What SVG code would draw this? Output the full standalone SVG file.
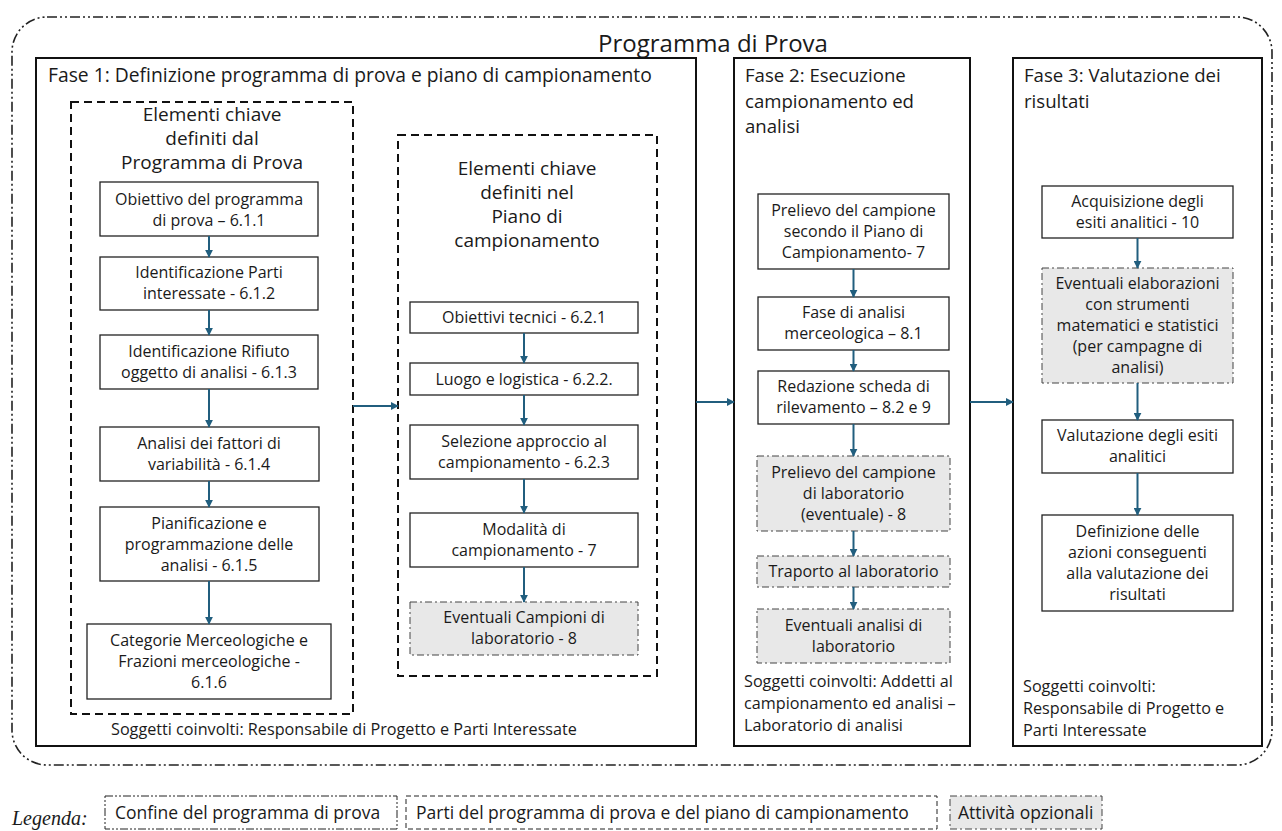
<svg xmlns="http://www.w3.org/2000/svg" width="1282" height="831" viewBox="0 0 1282 831">
<defs>
<marker id="ah" viewBox="0 0 10 10" refX="9" refY="5" markerWidth="8" markerHeight="8" markerUnits="userSpaceOnUse" orient="auto">
<path d="M0,0 L10,5 L0,10 z" fill="#215E7E"/>
</marker>
<style>
text{font-family:"Open Sans","Liberation Sans",sans-serif;fill:#1a1a1a}
.t{font-size:16px;text-anchor:middle}
.h{font-size:19px;text-anchor:middle}
.ph{font-size:18.6px}
.s{font-size:16.2px}
.box{fill:#fff;stroke:#222;stroke-width:1.3}
.opt{fill:#e8e8e8;stroke:#444;stroke-width:1;stroke-dasharray:7 3 2 3}
.phase{fill:#fff;stroke:#111;stroke-width:2}
.dash{fill:none;stroke:#111;stroke-width:2;stroke-dasharray:8 5}
.outer{fill:none;stroke:#222;stroke-width:1.6;stroke-dasharray:10 3 2 3 2 3}
.c{fill:none;stroke:#215E7E;stroke-width:2;marker-end:url(#ah)}
.lg{font-size:17.5px}
</style>
</defs>
<rect width="1282" height="831" fill="#fff"/>
<g id="boundary">
<rect class="outer" x="12" y="17" width="1260" height="748" rx="35" ry="35"/>
<text x="713" y="52" style="font-size:24px;text-anchor:middle">Programma di Prova</text>
</g>
<g id="fase1">
<rect class="phase" x="36" y="58" width="660" height="688"/>
<text class="ph" x="48" y="82" style="font-size:19.3px">Fase 1: Definizione programma di prova e piano di campionamento</text>
<text class="s" x="111" y="735">Soggetti coinvolti: Responsabile di Progetto e Parti Interessate</text>
</g>
<g id="fase2">
<rect class="phase" x="734" y="58" width="236" height="688"/>
<text class="ph" x="745" y="82">Fase 2: Esecuzione</text>
<text class="ph" x="745" y="107.5">campionamento ed</text>
<text class="ph" x="745" y="133">analisi</text>
<text class="s" x="744" y="687">Soggetti coinvolti: Addetti al</text>
<text class="s" x="744" y="709">campionamento ed analisi –</text>
<text class="s" x="744" y="731">Laboratorio di analisi</text>
</g>
<g id="fase3">
<rect class="phase" x="1013" y="58" width="249" height="688"/>
<text class="ph" x="1024" y="82">Fase 3: Valutazione dei</text>
<text class="ph" x="1024" y="107.5">risultati</text>
<text class="s" x="1023" y="692">Soggetti coinvolti:</text>
<text class="s" x="1023" y="714">Responsabile di Progetto e</text>
<text class="s" x="1023" y="736">Parti Interessate</text>
</g>
<g id="programma-prova">
<rect class="dash" x="71" y="102" width="282" height="612"/>
<text class="h" x="212" y="121">Elementi chiave</text>
<text class="h" x="212" y="145">definiti dal</text>
<text class="h" x="212" y="169">Programma di Prova</text>
</g>
<g id="piano-campionamento">
<rect class="dash" x="398" y="135" width="259" height="541"/>
<text class="h" x="527" y="175">Elementi chiave</text>
<text class="h" x="527" y="199">definiti nel</text>
<text class="h" x="527" y="223">Piano di</text>
<text class="h" x="527" y="247">campionamento</text>
</g>
<g id="n1"><rect class="box" x="100" y="182" width="218" height="54"/>
<text class="t" x="209" y="205">Obiettivo del programma</text><text class="t" x="209" y="226">di prova – 6.1.1</text></g>
<g id="n2"><rect class="box" x="100" y="257" width="218" height="53"/>
<text class="t" x="209" y="278">Identificazione Parti</text><text class="t" x="209" y="299">interessate - 6.1.2</text></g>
<g id="n3"><rect class="box" x="100" y="335" width="218" height="54"/>
<text class="t" x="209" y="357">Identificazione Rifiuto</text><text class="t" x="209" y="378">oggetto di analisi - 6.1.3</text></g>
<g id="n4"><rect class="box" x="100" y="427" width="219" height="54"/>
<text class="t" x="209" y="449">Analisi dei fattori di</text><text class="t" x="209" y="470">variabilità - 6.1.4</text></g>
<g id="n5"><rect class="box" x="100" y="507" width="219" height="74"/>
<text class="t" x="209" y="529">Pianificazione e</text><text class="t" x="209" y="550">programmazione delle</text><text class="t" x="209" y="571">analisi - 6.1.5</text></g>
<g id="n6"><rect class="box" x="87" y="624" width="244" height="75"/>
<text class="t" x="209" y="646">Categorie Merceologiche e</text><text class="t" x="209" y="667">Frazioni merceologiche -</text><text class="t" x="209" y="688">6.1.6</text></g>
<g id="p1"><rect class="box" x="410" y="302" width="228" height="31"/>
<text class="t" x="524" y="323">Obiettivi tecnici - 6.2.1</text></g>
<g id="p2"><rect class="box" x="410" y="363" width="228" height="32"/>
<text class="t" x="524" y="385">Luogo e logistica - 6.2.2.</text></g>
<g id="p3"><rect class="box" x="410" y="425" width="228" height="54"/>
<text class="t" x="524" y="447">Selezione approccio al</text><text class="t" x="524" y="468">campionamento - 6.2.3</text></g>
<g id="p4"><rect class="box" x="410" y="513" width="228" height="54"/>
<text class="t" x="524" y="535">Modalità di</text><text class="t" x="524" y="556">campionamento - 7</text></g>
<g id="p5"><rect class="opt" x="410" y="602" width="228" height="53"/>
<text class="t" x="524" y="623">Eventuali Campioni di</text><text class="t" x="524" y="644">laboratorio - 8</text></g>
<g id="f1"><rect class="box" x="758" y="194" width="191" height="75"/>
<text class="t" x="853.5" y="216">Prelievo del campione</text><text class="t" x="853.5" y="237">secondo il Piano di</text><text class="t" x="853.5" y="258">Campionamento- 7</text></g>
<g id="f2"><rect class="box" x="758" y="297" width="191" height="53"/>
<text class="t" x="853.5" y="318">Fase di analisi</text><text class="t" x="853.5" y="339">merceologica – 8.1</text></g>
<g id="f3"><rect class="box" x="758" y="371" width="191" height="53"/>
<text class="t" x="853.5" y="392">Redazione scheda di</text><text class="t" x="853.5" y="413">rilevamento – 8.2 e 9</text></g>
<g id="f4"><rect class="opt" x="757" y="456" width="193" height="75"/>
<text class="t" x="853.5" y="478">Prelievo del campione</text><text class="t" x="853.5" y="499">di laboratorio</text><text class="t" x="853.5" y="520">(eventuale) - 8</text></g>
<g id="f5"><rect class="opt" x="757" y="556" width="193" height="31"/>
<text class="t" x="853.5" y="577">Traporto al laboratorio</text></g>
<g id="f6"><rect class="opt" x="757" y="609" width="193" height="54"/>
<text class="t" x="853.5" y="631">Eventuali analisi di</text><text class="t" x="853.5" y="652">laboratorio</text></g>
<g id="g1"><rect class="box" x="1042" y="186" width="191" height="52"/>
<text class="t" x="1137.5" y="207">Acquisizione degli</text><text class="t" x="1137.5" y="228">esiti analitici - 10</text></g>
<g id="g2"><rect class="opt" x="1042" y="268" width="191" height="115"/>
<text class="t" x="1137.5" y="289">Eventuali elaborazioni</text><text class="t" x="1137.5" y="310">con strumenti</text><text class="t" x="1137.5" y="331">matematici e statistici</text><text class="t" x="1137.5" y="352">(per campagne di</text><text class="t" x="1137.5" y="373">analisi)</text></g>
<g id="g3"><rect class="box" x="1042" y="420" width="191" height="53"/>
<text class="t" x="1137.5" y="441">Valutazione degli esiti</text><text class="t" x="1137.5" y="462">analitici</text></g>
<g id="g4"><rect class="box" x="1042" y="515" width="191" height="96"/>
<text class="t" x="1137.5" y="537">Definizione delle</text><text class="t" x="1137.5" y="558">azioni conseguenti</text><text class="t" x="1137.5" y="579">alla valutazione dei</text><text class="t" x="1137.5" y="600">risultati</text></g>
<g id="connectors">
<path class="c" d="M209,236 V257"/>
<path class="c" d="M209,310 V335"/>
<path class="c" d="M209,389 V427"/>
<path class="c" d="M209,481 V507"/>
<path class="c" d="M209,581 V624"/>
<path class="c" d="M524,333 V363"/>
<path class="c" d="M524,395 V425"/>
<path class="c" d="M524,479 V513"/>
<path class="c" d="M524,567 V602"/>
<path class="c" d="M853.5,269 V297"/>
<path class="c" d="M853.5,350 V371"/>
<path class="c" d="M853.5,424 V456"/>
<path class="c" d="M853.5,531 V556"/>
<path class="c" d="M853.5,587 V609"/>
<path class="c" d="M1137.5,238 V268"/>
<path class="c" d="M1137.5,383 V420"/>
<path class="c" d="M1137.5,473 V515"/>
<path class="c" d="M353,406 H398"/>
<path class="c" d="M696,402 H734"/>
<path class="c" d="M970,402 H1013"/>
</g>
<g id="legenda">
<text x="12" y="825" style="font-family:'Liberation Serif',serif;font-style:italic;font-size:20px">Legenda:</text>
<rect x="105" y="796" width="292" height="33" fill="#fff" stroke="#222" stroke-width="1" stroke-dasharray="8 2 2 2 2 2"/>
<text class="lg" x="115" y="819">Confine del programma di prova</text>
<rect x="406" y="796" width="531" height="33" fill="#fff" stroke="#222" stroke-width="1" stroke-dasharray="5 3"/>
<text class="lg" x="416" y="819">Parti del programma di prova e del piano di campionamento</text>
<rect x="950" y="796" width="152" height="33" fill="#e8e8e8" stroke="#444" stroke-width="1" stroke-dasharray="7 3 2 3"/>
<text class="lg" x="958" y="819">Attività opzionali</text>
</g>
</svg>
